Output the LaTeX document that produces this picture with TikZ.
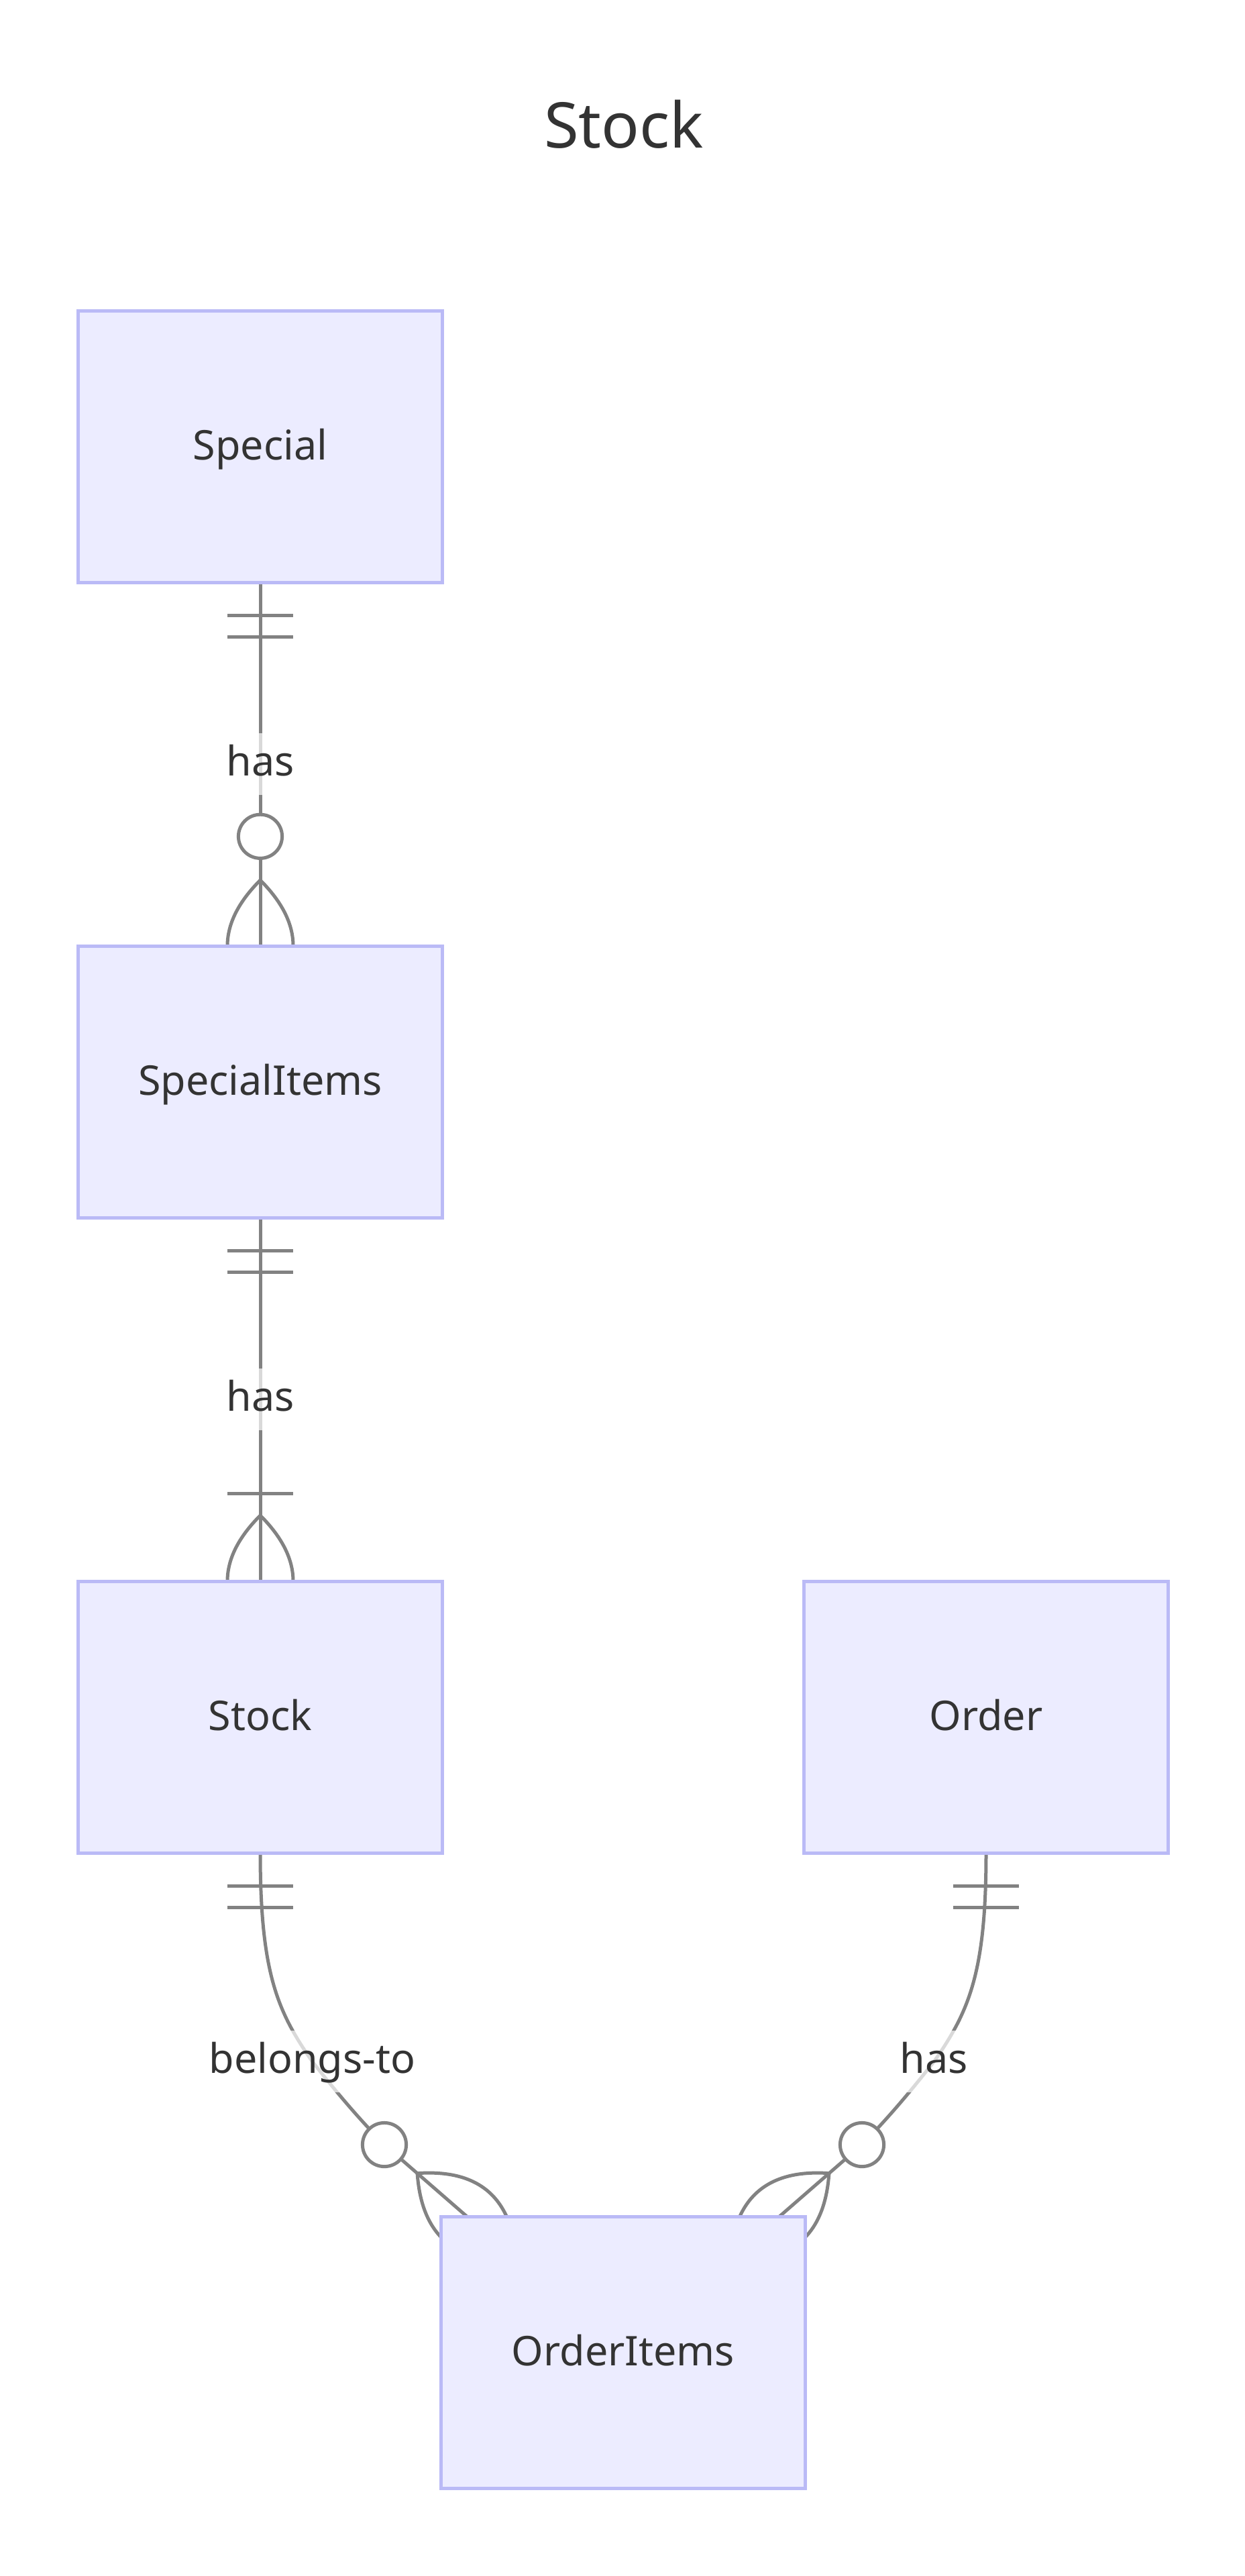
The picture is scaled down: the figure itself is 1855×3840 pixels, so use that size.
\documentclass[tikz,border=0pt]{standalone}
\usepackage{fontspec}
\setmainfont{Noto Sans}
\usetikzlibrary{calc}
\pgfdeclarelayer{edges}
\pgfsetlayers{edges,main}
\definecolor{entfill}{HTML}{ECECFF}
\definecolor{entborder}{RGB}{186,186,246}
\definecolor{relline}{HTML}{828282}
\definecolor{txt}{HTML}{333333}
\newcommand{\entfont}{\fontsize{61}{73}\selectfont}
\newcommand{\titlefont}{\fontsize{94}{113}\selectfont}
% crow's foot lens: apex, far end, right control, left control (quadratic curves as cubics)
\newcommand{\drawlens}[4]{\draw[rel] (#1) .. controls ($(#1)!0.6667!(#3)$) and ($(#2)!0.6667!(#3)$) .. (#2)
  .. controls ($(#2)!0.6667!(#4)$) and ($(#1)!0.6667!(#4)$) .. (#1);}
\tikzset{
  ent/.style={draw=entborder, fill=entfill, line width=5pt, minimum width=543pt,
    minimum height=405pt, inner sep=0pt, outer sep=0pt, text=txt, font=\entfont,
    text height=46pt, text depth=6pt},
  rel/.style={draw=relline, line width=5pt},
  zc/.style={draw=relline, line width=5pt, fill=white},
  lbl/.style={fill=white, fill opacity=0.7, text opacity=1, text=txt, font=\entfont,
    inner sep=0pt, inner xsep=6pt, minimum height=92pt, text height=46pt, text depth=11pt},
}
\begin{document}
\begin{tikzpicture}[x=1pt,y=-1pt]
\useasboundingbox (0,0) rectangle (1855,3840);

% title
\node[anchor=base, text=txt, font=\titlefont, inner sep=0pt] (title) at (930,220.5) {Stock};

% entities
\node[ent] (special) at (388,665.5) {Special};
\node[ent] (specialitems) at (388,1612.5) {SpecialItems};
\node[ent] (stock) at (388,2559.5) {Stock};
\node[ent] (order) at (1470,2559.5) {Order};
\node[ent] (orderitems) at (929,3506.5) {OrderItems};

% relationship labels
\node[lbl] (l1) at (388,1139) {has};
\node[lbl] (l2) at (388,2086) {has};
\node[lbl] (l3) at (465.5,3073) {belongs-to};
\node[lbl] (l4) at (1392.5,3073) {has};

% helper coordinates
\coordinate (e3) at ($(orderitems.north west)+(38.5,0)$);
\coordinate (e4) at ($(orderitems.north east)+(-38.5,0)$);
\coordinate (c3) at (573,3197);
\coordinate (c4) at (1285,3197);
% lens 1 (SpecialItems top)
\coordinate (a1) at ($(specialitems.north)+(0,-98)$);
\coordinate (b1) at ($(specialitems.north)+(0,98)$);
\coordinate (r1) at ($(specialitems.north)+(98,0)$);
\coordinate (s1) at ($(specialitems.north)+(-98,0)$);
% lens 2 (Stock top)
\coordinate (a2) at ($(stock.north)+(0,-98)$);
\coordinate (b2) at ($(stock.north)+(0,98)$);
\coordinate (r2) at ($(stock.north)+(98,0)$);
\coordinate (s2) at ($(stock.north)+(-98,0)$);
% lens 3 and 4 (OrderItems top, diagonal)
\coordinate (a3) at ($(e3)!98pt!(c3)$);
\coordinate (b3) at ($(e3)!-98pt!(c3)$);
\coordinate (r3) at ($(e3)!98pt!90:(c3)$);
\coordinate (s3) at ($(e3)!98pt!-90:(c3)$);
\coordinate (a4) at ($(e4)!98pt!(c4)$);
\coordinate (b4) at ($(e4)!-98pt!(c4)$);
\coordinate (r4) at ($(e4)!98pt!90:(c4)$);
\coordinate (s4) at ($(e4)!98pt!-90:(c4)$);

\begin{pgfonlayer}{edges}
% Special -- SpecialItems
\draw[rel] (special.south) -- (specialitems.north);
\draw[rel] ($(special.south)+(-49,49)$) -- ++(98,0);
\draw[rel] ($(special.south)+(-49,81.6)$) -- ++(98,0);
\drawlens{a1}{b1}{r1}{s1}
\draw[zc] ($(specialitems.north)+(0,-163.2)$) circle[radius=32.6pt];

% SpecialItems -- Stock
\draw[rel] (specialitems.south) -- (stock.north);
\draw[rel] ($(specialitems.south)+(-49,49)$) -- ++(98,0);
\draw[rel] ($(specialitems.south)+(-49,81.6)$) -- ++(98,0);
\draw[rel] ($(stock.north)+(-49,-130.6)$) -- ++(98,0);
\drawlens{a2}{b2}{r2}{s2}

% Stock -- OrderItems
\draw[rel] (stock.south) .. controls +(0,180) and +(-51.3,-73.9) .. (l3.center)
  .. controls +(37.2,47.1) and +(-38.5,-39.3) .. (c3) -- (e3);
\draw[rel] ($(stock.south)+(-49,49)$) -- ++(98,0);
\draw[rel] ($(stock.south)+(-49,81.6)$) -- ++(98,0);
\drawlens{a3}{b3}{r3}{s3}
\draw[zc] (c3) circle[radius=32.6pt];

% Order -- OrderItems
\draw[rel] (order.south) .. controls +(0,180) and +(51.3,-73.9) .. (l4.center)
  .. controls +(-37.2,47.1) and +(38.5,-39.3) .. (c4) -- (e4);
\draw[rel] ($(order.south)+(-49,49)$) -- ++(98,0);
\draw[rel] ($(order.south)+(-49,81.6)$) -- ++(98,0);
\drawlens{a4}{b4}{r4}{s4}
\draw[zc] (c4) circle[radius=32.6pt];
\end{pgfonlayer}
\end{tikzpicture}
\end{document}
